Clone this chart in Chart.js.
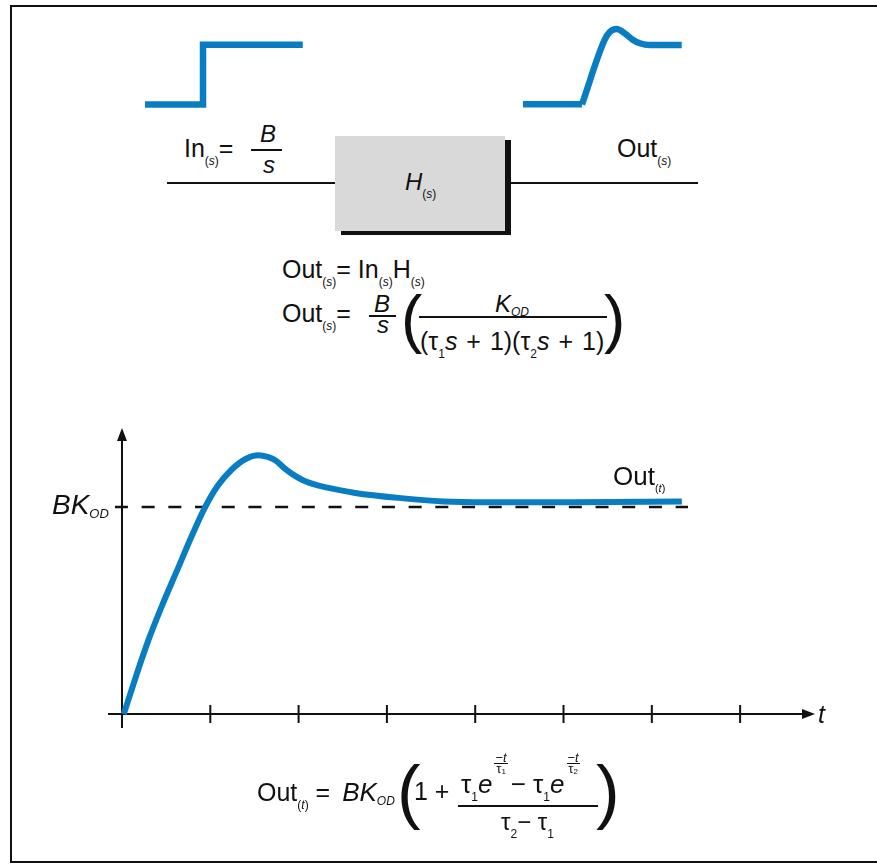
<!DOCTYPE html>
<html>
<head>
<meta charset="utf-8">
<script src="https://cdn.jsdelivr.net/npm/chart.js@4.4.1/dist/chart.umd.min.js"></script>
<style>
  body { margin: 0; background: #fff; }
  #wrap { position: relative; width: 877px; height: 865px; overflow: hidden; }
  canvas { position: absolute; }
  .t { position: absolute; font-family: "Liberation Sans", Arial, sans-serif; color: #111;
       font-size: 25px; line-height: 1; white-space: nowrap; }
  .s { font-size: 12px; position: relative; top: 8px; }
  .bar { position: absolute; background: #111; height: 2px; }
  .ef { display: inline-block; font-size: 13px; text-align: center; position: relative; top: -20px;
        line-height: 10px; margin: 0 3px 0 2px; }
  .ef span { display: block; padding: 0 1px; }
  .ef .den { border-top: 1px solid #111; }
  .ef sub { font-size: 8px; vertical-align: -1px; line-height: 0; }
</style>
</head>
<body>
<div id="wrap">
  <div style="position:absolute;left:10px;top:5px;width:900px;height:858px;border:2px solid #111;box-sizing:border-box"></div>

  <canvas id="stepIn" width="190" height="90" style="left:130px;top:30px"></canvas>
  <canvas id="stepOut" width="190" height="100" style="left:510px;top:15px"></canvas>

  <!-- block diagram -->
  <div class="bar" style="left:167px;top:182px;width:168px"></div>
  <div class="bar" style="left:510px;top:182px;width:188px"></div>
  <div style="position:absolute;left:335px;top:136px;width:170px;height:95px;background:#d9d9d9;box-shadow:6px 4px 0 #111"></div>

  <div class="t" style="left:184px;top:136px">In<span class="s">(<i>s</i>)</span>=</div>
  <div class="t" style="left:260px;top:122px;font-size:24px"><i>B</i></div>
  <div class="bar" style="left:251px;top:149px;width:31px"></div>
  <div class="t" style="left:263px;top:153px;font-size:24px"><i>s</i></div>

  <div class="t" style="left:405px;top:170px;font-size:24px"><i>H</i><span class="s">(<i>s</i>)</span></div>
  <div class="t" style="left:617px;top:136px">Out<span class="s">(<i>s</i>)</span></div>

  <!-- transfer relations -->
  <div class="t" style="left:282px;top:257px">Out<span class="s">(<i>s</i>)</span>= In<span class="s">(<i>s</i>)</span>H<span class="s">(<i>s</i>)</span></div>
  <div class="t" style="left:282px;top:301px">Out<span class="s">(<i>s</i>)</span>=</div>
  <div class="t" style="left:374px;top:292px;font-size:24px"><i>B</i></div>
  <div class="bar" style="left:369px;top:315px;width:27px"></div>
  <div class="t" style="left:377px;top:313px;font-size:24px"><i>s</i></div>
  <div class="t" style="left:401px;top:287px;font-size:64px">(</div>
  <div class="t" style="left:495px;top:292px;font-size:24px"><i>K</i><span class="s" style="top:4px"><i>OD</i></span></div>
  <div class="bar" style="left:419px;top:316px;width:188px"></div>
  <div class="t" style="left:420px;top:329px;word-spacing:2px">(τ<span class="s">1</span><i>s</i> + 1)(τ<span class="s">2</span><i>s</i> + 1)</div>
  <div class="t" style="left:604px;top:287px;font-size:64px">)</div>

  <canvas id="respChart" width="877" height="865" style="left:0;top:0"></canvas>

  <!-- chart labels -->
  <div class="t" style="left:52px;top:491px;font-size:28px"><i>BK</i><span class="s" style="font-size:13px;top:4px"><i>OD</i></span></div>
  <div class="t" style="left:613px;top:463px;font-size:26px">Out<span class="s" style="font-size:11px;top:7px">(<i>t</i>)</span></div>
  <div class="t" style="left:818px;top:702px"><i>t</i></div>

  <!-- time response -->
  <div class="t" style="left:257px;top:779px">Out<span class="s">(<i>t</i>)</span> = <i style="font-size:26px;margin-left:5px">BK</i><span class="s" style="top:4px"><i>OD</i></span></div>
  <div class="t" style="left:397px;top:755px;font-size:71px">(</div>
  <div class="t" style="left:414px;top:779px">1 +</div>
  <div class="t" style="left:461px;top:771px;font-size:26px">τ<span class="s">1</span><i>e</i><span class="ef"><span>−<i>t</i></span><span class="den">τ<sub>1</sub></span></span>− τ<span class="s">1</span><i>e</i><span class="ef"><span>−<i>t</i></span><span class="den">τ<sub>2</sub></span></span></div>
  <div class="bar" style="left:458px;top:805px;width:140px"></div>
  <div class="t" style="left:501px;top:810px;font-size:24px">τ<span class="s">2</span>− τ<span class="s">1</span></div>
  <div class="t" style="left:596px;top:755px;font-size:71px">)</div>
</div>

<script>
// step response (t in tick units, output in units of BK_OD)
var respT   = [0.02, 0.17, 0.30, 0.45, 0.62, 0.78, 0.93, 1.08, 1.24, 1.40, 1.547, 1.65, 1.736, 1.849, 1.925, 2.075, 2.34, 2.64, 3.13, 3.64, 4.13, 5.14, 6.34];
var respOut = [0, 0.197, 0.358, 0.52, 0.69, 0.85, 0.99, 1.10, 1.18, 1.232, 1.25, 1.242, 1.226, 1.184, 1.16, 1.124, 1.092, 1.068, 1.044, 1.027, 1.023, 1.023, 1.027];
// steady-state level BK_OD
var finalT = [-0.08, 6.41];
var finalLevel = [1, 1];
var tickValues = [1, 2, 3, 4, 5, 6, 7];

// input step icon
var stepInT = [0, 1, 1, 2.72];
var stepInV = [0, 0, 1, 1];
// output icon
var iconFlatT = [0, 1];
var iconFlatV = [0, 0];
var iconRiseT = [1, 1.38, 1.47, 1.59, 1.72, 1.86, 1.98, 2.15, 2.69];
var iconRiseV = [0, 1.08, 1.22, 1.27, 1.2, 1.09, 1.03, 1.0, 1.0];

var blue = "#087dc1";

function pts(xs, ys) {
    return xs.map(function(v, i) { return { x: v, y: ys[i] }; });
}

function quiet(xmin, xmax, ymin, ymax, pad) {
    return {
        responsive: false,
        animation: false,
        layout: { padding: pad || 0 },
        plugins: { legend: { display: false }, tooltip: { enabled: false } },
        elements: { point: { radius: 0 } },
        scales: {
            x: { type: "linear", min: xmin, max: xmax, display: false },
            y: { type: "linear", min: ymin, max: ymax, display: false }
        }
    };
}

// input step
new Chart("stepIn", {
    type: "line",
    data: {
        datasets: [{
            data: pts(stepInT, stepInV),
            borderColor: blue, borderWidth: 6.5,
            borderJoinStyle: "miter", borderCapStyle: "butt", tension: 0
        }]
    },
    options: quiet(-0.259, 3.017, -0.257, 1.245)
});

// output icon
new Chart("stepOut", {
    type: "line",
    data: {
        datasets: [{
            data: pts(iconFlatT, iconFlatV),
            borderColor: blue, borderWidth: 6.5, borderCapStyle: "butt", tension: 0
        }, {
            data: pts(iconRiseT, iconRiseV),
            borderColor: blue, borderWidth: 6.5, borderCapStyle: "butt",
            cubicInterpolationMode: "monotone"
        }]
    },
    options: quiet(-0.22, 3.0, -0.18, 1.506)
});

// axes with arrows and ticks
var axesPlugin = {
    id: "axes",
    beforeDatasetsDraw: function(chart) {
        var ctx = chart.ctx, x = chart.scales.x, y = chart.scales.y;
        var x0 = x.getPixelForValue(0), y0 = y.getPixelForValue(0);
        var xl = x.getPixelForValue(x.min), xr = x.getPixelForValue(x.max);
        var yb = y.getPixelForValue(y.min), yt = y.getPixelForValue(y.max);
        ctx.save();
        ctx.strokeStyle = "#111";
        ctx.fillStyle = "#111";
        ctx.lineWidth = 2;
        ctx.beginPath();
        ctx.moveTo(xl, y0); ctx.lineTo(xr - 10, y0);
        ctx.moveTo(x0, yb); ctx.lineTo(x0, yt + 10);
        tickValues.forEach(function(v) {
            var px = x.getPixelForValue(v);
            ctx.moveTo(px, y0 - 9); ctx.lineTo(px, y0 + 9);
        });
        ctx.stroke();
        ctx.beginPath();
        ctx.moveTo(xr, y0); ctx.lineTo(xr - 13, y0 - 5); ctx.lineTo(xr - 13, y0 + 5); ctx.closePath();
        ctx.moveTo(x0, yt); ctx.lineTo(x0 - 5, yt + 13); ctx.lineTo(x0 + 5, yt + 13); ctx.closePath();
        ctx.fill();
        ctx.restore();
    }
};

new Chart("respChart", {
    type: "line",
    data: {
        datasets: [{
            data: pts(respT, respOut),
            borderColor: blue, borderWidth: 6, borderCapStyle: "butt",
            cubicInterpolationMode: "monotone"
        }, {
            data: pts(finalT, finalLevel),
            borderColor: "#111", borderWidth: 2.5, borderDash: [13, 13.7], tension: 0
        }]
    },
    options: quiet(-0.1585, 7.848, -0.0676, 1.3816, { left: 108, right: 62, top: 428, bottom: 137 }),
    plugins: [axesPlugin]
});
</script>
</body>
</html>
